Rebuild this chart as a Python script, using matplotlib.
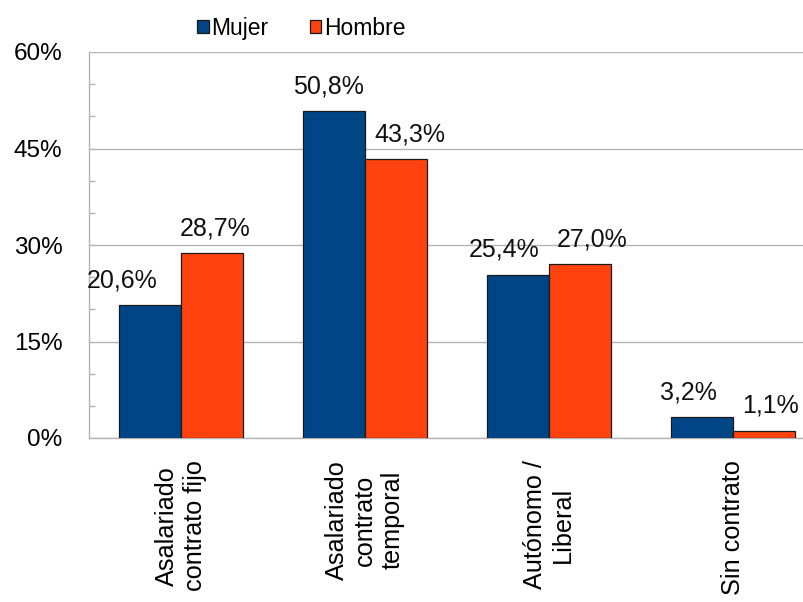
import matplotlib
matplotlib.use("Agg")
import matplotlib.pyplot as plt
from matplotlib.ticker import MultipleLocator, FuncFormatter
import numpy as np

plt.rcParams["font.family"] = ["Liberation Sans", "DejaVu Sans"]

# porcentajes por tipo de contrato
categorias = ["Asalariado\ncontrato fijo", "Asalariado\ncontrato\ntemporal",
              "Autónomo /\nLiberal", "Sin contrato"]
mujer = [20.6, 50.8, 25.4, 3.2]
hombre = [28.7, 43.3, 27.0, 1.1]

azul = "#004586"
naranja = "#ff420e"
gris = "#b3b3b3"

fig = plt.figure(figsize=(8.04, 6.02), dpi=100)
ax = fig.add_axes([89 / 804, 1 - 438 / 602, 736 / 804, 386 / 602])

x = np.arange(len(categorias))
ancho = 0.337
b1 = ax.bar(x - ancho / 2, mujer, ancho, color=azul, edgecolor="#1a1a1a",
            linewidth=0.9, label="Mujer", zorder=3)
b2 = ax.bar(x + ancho / 2, hombre, ancho, color=naranja, edgecolor="#1a1a1a",
            linewidth=0.9, label="Hombre", zorder=3)

# etiquetas de valor (desplazamiento horizontal en pixeles)
desp_m = [-28, -6, -14, -14]
desp_h = [3, 14, 12, 6]
for barras, vals, desp in ((b1, mujer, desp_m), (b2, hombre, desp_h)):
    for b, v, d in zip(barras, vals, desp):
        ax.annotate(f"{v:.1f}%".replace(".", ","),
                    (b.get_x() + b.get_width() / 2, v),
                    xytext=(d * 0.72, 13), textcoords="offset points",
                    ha="center", va="baseline", fontsize=18, color="#111111")

ax.set_xlim(-0.5, len(categorias) - 0.5)
ax.set_ylim(0, 60)
ax.yaxis.set_major_locator(MultipleLocator(15))
ax.yaxis.set_minor_locator(MultipleLocator(5))
ax.yaxis.set_major_formatter(FuncFormatter(lambda v, p: f"{v:.0f}%"))
ax.grid(axis="y", color=gris, linewidth=1, zorder=0)
ax.set_axisbelow(True)

ax.set_xticks(x)
ax.set_xticklabels(categorias, rotation=90, ha="center", va="top",
                   multialignment="center", fontsize=18.2, linespacing=1.2)
ax.tick_params(axis="x", length=0, pad=16)
ax.tick_params(axis="y", which="major", length=0, pad=19, labelsize=17.5)
ax.tick_params(axis="y", which="minor", direction="in", length=4,
               color=gris, width=1)

for lado in ("top", "right"):
    ax.spines[lado].set_visible(False)
for lado in ("left", "bottom"):
    ax.spines[lado].set_color(gris)
    ax.spines[lado].set_linewidth(1)

fig.legend(handles=[b1, b2], loc="center", bbox_to_anchor=(0.375, 0.953),
           ncol=2, frameon=False, fontsize=16.5, handlelength=0.5,
           handleheight=0.5, handletextpad=0.12, columnspacing=1.8)

fig.savefig("out.png", dpi=100)
